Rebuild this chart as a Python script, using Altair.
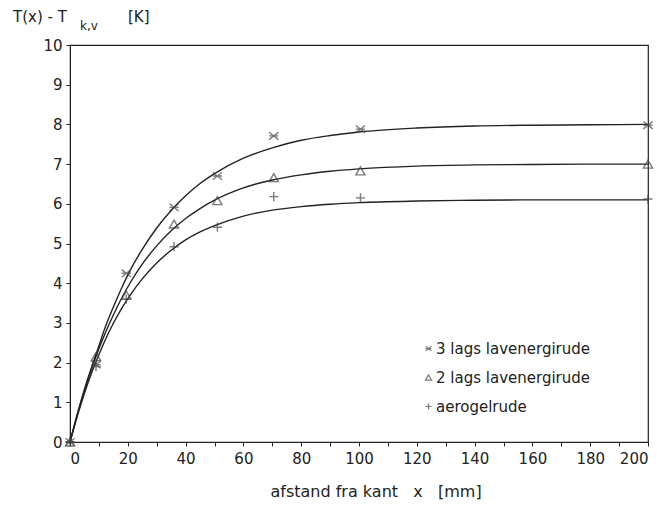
import altair as alt
import pandas as pd

series = ["3 lags lavenergirude", "2 lags lavenergirude", "aerogelrude"]

meas_x = [0, 9, 19.5, 36, 51, 70.5, 100.5, 200]
meas_3lag = [0, 1.95, 4.25, 5.91, 6.70, 7.71, 7.88, 7.98]
meas_2lag = [0, 2.15, 3.70, 5.49, 6.08, 6.66, 6.83, 7.00]
meas_aero = [0, 1.90, 3.60, 4.92, 5.41, 6.18, 6.15, 6.12]

# fitted curves
curve_x = [0, 2, 4, 6, 8, 10, 12, 15, 18, 21, 25, 30, 35, 40, 45, 50, 60, 70, 80, 90,
           100, 120, 140, 160, 180, 200]
curve_3lag = [0, 0.56, 1.08, 1.56, 2.00, 2.42, 2.85, 3.40, 3.90, 4.35, 4.85, 5.39, 5.83,
              6.20, 6.51, 6.76, 7.15, 7.41, 7.60, 7.72, 7.81, 7.91, 7.96, 7.98, 7.99, 8.00]
curve_2lag = [0, 0.55, 1.06, 1.52, 1.95, 2.35, 2.71, 3.20, 3.64, 4.03, 4.48, 4.94, 5.32,
              5.63, 5.88, 6.09, 6.40, 6.60, 6.73, 6.82, 6.88, 6.95, 6.98, 6.99, 7.00, 7.00]
curve_aero = [0, 0.52, 1.00, 1.44, 1.84, 2.20, 2.54, 2.99, 3.38, 3.72, 4.11, 4.51, 4.83,
              5.09, 5.29, 5.45, 5.69, 5.84, 5.93, 5.99, 6.03, 6.07, 6.09, 6.10, 6.10, 6.10]

x_ticks = list(range(0, 201, 10))
y_ticks = list(range(0, 11))

meas_vals = [meas_3lag, meas_2lag, meas_aero]
curve_vals = [curve_3lag, curve_2lag, curve_aero]

meas_df = pd.DataFrame(
    [{"x": x, "y": y, "serie": s} for s, ys in zip(series, meas_vals) for x, y in zip(meas_x, ys)]
)
curve_df = pd.DataFrame(
    [{"x": x, "y": y, "serie": s} for s, ys in zip(series, curve_vals) for x, y in zip(curve_x, ys)]
)

FONT = "DejaVu Sans"
INK = "#222222"
NB = "\u00a0"

star = "M-1,-0.8L1,0.8M-1,0.8L1,-0.8M-1,0L1,0"
plus = "M-1,0L1,0M0,-1L0,1"

xscale = alt.Scale(domain=[0, 200], nice=False, zero=False)
yscale = alt.Scale(domain=[0, 10], nice=False)

xaxis = alt.Axis(
    values=x_ticks,
    labelExpr="datum.value % 20 == 0 ? datum.label : ''",
    labelOverlap=False,
    tickSize=4,
    labelPadding=5,
    title="afstand fra kant" + NB * 3 + "x" + NB * 3 + "[mm]",
    titleFont=FONT,
    titleFontSize=16,
    titleFontWeight="normal",
    titleColor=INK,
    titleAnchor="start",
    titleAlign="left",
    titleX=200,
    titleY=54,
    titleBaseline="alphabetic",
)
yaxis = alt.Axis(values=y_ticks, tickSize=4, labelPadding=4, labelOverlap=False, title=None)

lines = alt.Chart(curve_df).mark_line(color=INK, strokeWidth=1.4, interpolate="monotone").encode(
    x=alt.X("x:Q", scale=xscale, axis=xaxis),
    y=alt.Y("y:Q", scale=yscale, axis=yaxis),
    detail="serie:N",
)

points = alt.Chart(meas_df).mark_point(filled=False, size=85, strokeWidth=1.4, color="#444444").encode(
    x=alt.X("x:Q", scale=xscale, axis=xaxis),
    y=alt.Y("y:Q", scale=yscale, axis=yaxis),
    shape=alt.Shape(
        "serie:N",
        scale=alt.Scale(domain=series, range=[star, "triangle-up", plus]),
        legend=alt.Legend(
            title=None,
            orient="none",
            legendX=351,
            legendY=296,
            padding=0,
            symbolSize=36,
            symbolStrokeColor="#444444",
            symbolStrokeWidth=1.2,
            symbolFillColor="transparent",
            labelFont=FONT,
            labelFontSize=15,
            labelColor=INK,
            labelOffset=0,
            rowPadding=13,
        ),
    ),
)

def label(txt, px, py, size):
    return alt.Chart(pd.DataFrame({"t": [txt]})).mark_text(
        align="left", baseline="alphabetic", font=FONT, fontSize=size, color=INK
    ).encode(x=alt.value(px), y=alt.value(py), text="t:N")

ytitle = label("T(x) - T", -57, -23, 15) + label("k,v", 10, -15, 12) + label("[K]", 58, -23, 15)

chart = alt.layer(lines, points, ytitle).properties(
    width=578,
    height=397,
    autosize="none",
    padding={"left": 62, "top": 37, "right": 7, "bottom": 60},
).configure_view(
    stroke=INK, strokeWidth=1.2
).configure_axis(
    labelFont=FONT,
    labelFontSize=15,
    labelColor=INK,
    domainColor=INK,
    tickColor=INK,
    grid=False,
)

chart.save("out.html", embed_options={"renderer": "svg", "actions": False})
